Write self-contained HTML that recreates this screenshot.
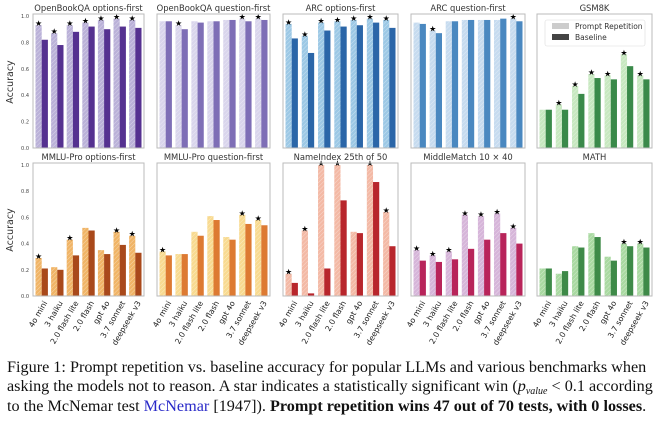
<!DOCTYPE html>
<html><head><meta charset="utf-8"><style>
body{margin:0;background:#fff;width:660px;height:422px;overflow:hidden}
svg{position:absolute;left:0;top:0}
.cap{position:absolute;left:7px;top:358px;width:660px;font-family:"Liberation Serif",serif;font-size:16.2px;line-height:19.4px;color:#111;white-space:nowrap}
.cap a{color:#2a2ac8;text-decoration:none}
.cap sub{font-size:10px;line-height:0;vertical-align:-3px}
</style></head><body>
<svg id="s" width="660" height="422" xmlns="http://www.w3.org/2000/svg" font-family="DejaVu Sans, sans-serif">
<defs>
<pattern id="h" width="3" height="3" patternUnits="userSpaceOnUse" patternTransform="rotate(45)">
<rect width="3" height="3" fill="none"/><line x1="0" y1="0" x2="0" y2="3" stroke="#fff" stroke-width="0.8" opacity="0.55"/>
</pattern>
</defs>
<text x="13" y="82" font-size="9.5" fill="#333" transform="rotate(-90 13 82)" text-anchor="middle">Accuracy</text>
<text x="13" y="230" font-size="9.5" fill="#333" transform="rotate(-90 13 230)" text-anchor="middle">Accuracy</text>
</svg>
<div class="cap">Figure 1: Prompt repetition vs. baseline accuracy for popular LLMs and various benchmarks when<br>asking the models not to reason. A star indicates a statistically significant win (<i>p<sub>value</sub></i> &lt; 0.1 according<br>to the McNemar test <a>McNemar</a> [1947]). <b>Prompt repetition wins 47 out of 70 tests, with 0 losses</b>.</div>
<script>
var NS="http://www.w3.org/2000/svg",s=document.getElementById("s");
function el(t,a,txt){var e=document.createElementNS(NS,t);for(var k in a)e.setAttribute(k,a[k]);if(txt)e.textContent=txt;s.appendChild(e);return e;}
var xs=[[33,111],[157,113],[283,115],[411,114],[537,115]];
var rows=[{top:14,y0:148,y1:16},{top:163,y0:296,y1:165}];
var P=[
["OpenBookQA options-first","#bab1d8","#553190",[[.93,.82,1],[.87,.78,1],[.93,.88,1],[.95,.92,1],[.97,.90,1],[.98,.92,1],[.97,.91,1]]],
["OpenBookQA question-first","#d9d5ec","#7e6eb6",[[.96,.96,0],[.93,.90,1],[.96,.95,0],[.96,.96,0],[.97,.97,0],[.98,.96,1],[.98,.97,1]]],
["ARC options-first","#9cc8e5","#2b66a8",[[.94,.83,1],[.85,.72,1],[.95,.89,1],[.96,.92,1],[.97,.93,1],[.98,.95,1],[.97,.91,1]]],
["ARC question-first","#c6dbef","#4a88c0",[[.95,.94,0],[.89,.87,1],[.96,.96,0],[.97,.97,0],[.97,.97,0],[.97,.98,0],[.98,.96,1]]],
["GSM8K","#c7e8c0","#3a8a4a",[[.29,.29,0],[.33,.29,1],[.47,.41,1],[.56,.53,1],[.55,.52,1],[.71,.62,1],[.55,.52,1]]],
["MMLU-Pro options-first","#f0b466","#a9491b",[[.29,.21,1],[.22,.20,0],[.43,.31,1],[.52,.50,0],[.35,.32,0],[.49,.39,1],[.46,.33,1]]],
["MMLU-Pro question-first","#f8da90","#dd7a32",[[.34,.31,1],[.32,.32,0],[.49,.46,0],[.61,.58,0],[.45,.43,0],[.62,.55,1],[.58,.54,1]]],
["NameIndex 25th of 50","#f3b9a5","#b8262c",[[.17,.10,1],[.50,.02,1],[1,.21,1],[1,.73,1],[.49,.48,0],[1,.87,1],[.64,.38,1]]],
["MiddleMatch 10 \u00d7 40","#d6b5d9","#b8245a",[[.35,.27,1],[.31,.26,1],[.34,.28,1],[.62,.36,1],[.61,.43,1],[.63,.48,1],[.52,.40,1]]],
["MATH","#a9d9a1","#3e8a48",[[.21,.21,0],[.17,.19,0],[.38,.37,0],[.48,.45,0],[.30,.27,0],[.40,.38,1],[.40,.37,1]]]];
var labs=["4o mini","3 haiku","2.0 flash lite","2.0 flash","gpt 4o","3.7 sonnet","deepseek v3"];
P.forEach(function(p,i){
 var r=rows[i<5?0:1],c=xs[i%5],x0=c[0],w=c[1],k=(r.y0-r.y1);
 el("text",{x:x0+w/2,y:r.top-3,"font-size":8.4,fill:"#333","text-anchor":"middle"},p[0]);
 var bw=6.2,step=(w-5-2*bw)/6;
 p[3].forEach(function(d,j){
  var bx=x0+2.5+j*step,hl=d[0]*k,hd=d[1]*k;
  el("rect",{x:bx,y:r.y0-hl,width:bw,height:hl,fill:p[1]});
  el("rect",{x:bx,y:r.y0-hl,width:bw,height:hl,fill:"url(#h)"});
  el("rect",{x:bx+bw,y:r.y0-hd,width:bw,height:hd,fill:p[2]});
  if(d[2])el("text",{x:bx+bw/2,y:r.y0-hl+1,"font-size":8,fill:"#000","text-anchor":"middle"},"\u2605");
  if(i>=5){var tx=bx+bw+1,ty=r.y0+4;el("text",{x:tx,y:ty,"font-size":7.8,fill:"#222","text-anchor":"end","dominant-baseline":"hanging",transform:"rotate(-60 "+tx+" "+ty+")"},labs[j]);}
 });
 el("rect",{x:x0,y:r.top,width:w,height:r.y0-r.top,fill:"none",stroke:"#bbb","stroke-width":1});
 if(i%5==0){for(var t=0;t<=5;t++){var yy=r.y0-t*0.2*k;el("text",{x:x0-4,y:yy+2,"font-size":5,fill:"#444","text-anchor":"end"},(t*0.2).toFixed(1));}}
});
el("rect",{x:545,y:20,width:100,height:26,fill:"#fff",stroke:"#ddd","stroke-width":0.6,rx:2});
el("rect",{x:552,y:23,width:17,height:6,fill:"#ccc"});
el("rect",{x:552,y:34,width:17,height:6,fill:"#444"});
el("text",{x:575,y:29,"font-size":7.5,fill:"#333"},"Prompt Repetition");
el("text",{x:575,y:40,"font-size":7.5,fill:"#333"},"Baseline");
</script>
</body></html>
